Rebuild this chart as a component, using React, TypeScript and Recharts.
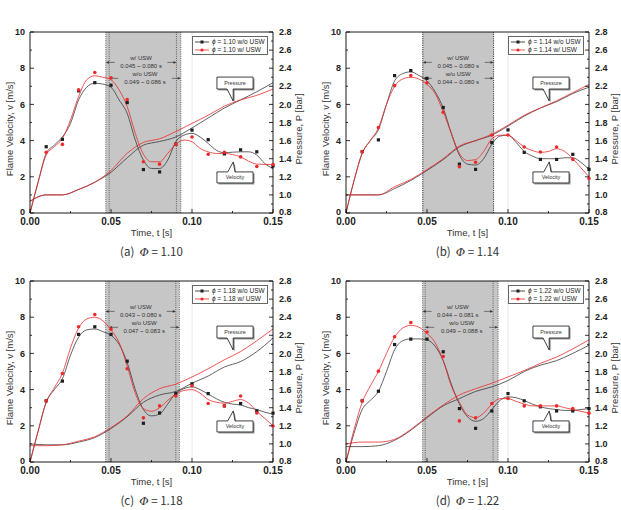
import React from "react";
import {
  ComposedChart,
  Line,
  Scatter,
  XAxis,
  YAxis,
  ReferenceArea,
  ReferenceLine,
  Legend,
} from "recharts";

// Four panels of flame velocity (left axis) and pressure (right axis)
// vs. time, with and without USW.

const T_FINE = [
  0, 0.005, 0.01, 0.015, 0.02, 0.025, 0.03, 0.035, 0.04, 0.045, 0.05,
  0.055, 0.06, 0.065, 0.07, 0.075, 0.08, 0.085, 0.09, 0.095, 0.1, 0.105,
  0.11, 0.115, 0.12, 0.125, 0.13, 0.135, 0.14, 0.145, 0.15,
];
const T_STEP = [
  0, 0.01, 0.02, 0.03, 0.04, 0.05, 0.06, 0.07, 0.08, 0.09, 0.1, 0.11, 0.12,
  0.13, 0.14, 0.15,
];
const T_MARK = [
  0.01, 0.02, 0.03, 0.04, 0.05, 0.06, 0.07, 0.08, 0.09, 0.1, 0.11, 0.12,
  0.13, 0.14, 0.15,
];

const X_TICKS = [0, 0.025, 0.05, 0.075, 0.1, 0.125, 0.15];
const V_TICKS = [0, 1, 2, 3, 4, 5, 6, 7, 8, 9, 10];
const P_TICKS = [
  0.8, 0.9, 1.0, 1.1, 1.2, 1.3, 1.4, 1.5, 1.6, 1.7, 1.8, 1.9, 2.0, 2.1, 2.2,
  2.3, 2.4, 2.5, 2.6, 2.7, 2.8,
];

// (a) phi = 1.10
const MARK_A_WO = [3.66, 4.07, 6.75, 7.2, 7.06, 6.1, 2.4, 2.27, 3.8, 4.58, 4.05, 3.27, 3.49, 3.38, 2.6];
const MARK_A_W = [3.36, 3.79, 6.8, 7.76, 7.47, 6.27, 2.83, 2.7, 3.79, 4.2, 3.25, 3.35, 3.1, 2.57, 2.68];
const CURVE_A_WO = [0, 1.7, 3.29, 3.75, 4.2, 4.95, 6.25, 6.95, 7.17, 7.12, 6.95, 6.25, 5.5, 4.03, 2.92, 2.46, 2.46, 2.92, 3.94, 4.3, 4.4, 4.2, 3.84, 3.47, 3.33, 3.36, 3.38, 3.38, 3.2, 2.73, 2.46];
const CURVE_A_W = [0, 1.7, 3.2, 3.66, 4.12, 5.14, 6.43, 7.36, 7.58, 7.5, 7.36, 6.8, 5.88, 4.4, 3.25, 2.83, 2.83, 3.29, 3.8, 4.03, 3.94, 3.57, 3.38, 3.29, 3.29, 3.23, 3.1, 2.86, 2.7, 2.68, 2.68];
const PRES_A_WO = [0.93, 1.0, 1.0, 1.06, 1.14, 1.25, 1.41, 1.55, 1.59, 1.64, 1.74, 1.85, 1.96, 2.05, 2.14, 2.24];
const PRES_A_W = [0.93, 1.0, 1.0, 1.06, 1.14, 1.27, 1.46, 1.58, 1.62, 1.7, 1.79, 1.88, 1.98, 2.05, 2.1, 2.17];
const SHADE_A = [0.0468, 0.0489, 0.0904, 0.0931];
const ANNO_A = ["0.045 ~ 0.080 s", "0.049 ~ 0.086 s"];

// (b) phi = 1.14
const MARK_B_WO = [3.39, 4.04, 7.59, 7.87, 7.44, 5.83, 2.7, 2.41, 3.89, 4.59, 3.35, 2.96, 2.96, 3.24, 2.41];
const MARK_B_W = [3.39, 4.72, 7.04, 7.59, 7.19, 5.56, 2.56, 2.8, 4.31, 4.31, 3.65, 3.37, 3.65, 2.96, 1.91];
const CURVE_B_WO = [0, 1.8, 3.3, 4.0, 4.6, 6.0, 7.3, 7.7, 7.8, 7.6, 7.3, 6.7, 5.8, 4.4, 3.2, 2.7, 2.65, 3.0, 3.8, 4.25, 4.3, 3.9, 3.4, 3.15, 3.0, 3.0, 3.0, 3.05, 3.05, 2.8, 2.4];
const CURVE_B_W = [0, 1.8, 3.3, 4.0, 4.7, 6.0, 7.0, 7.4, 7.5, 7.4, 7.1, 6.6, 5.6, 4.4, 3.3, 2.9, 2.95, 3.4, 4.1, 4.3, 4.3, 4.0, 3.65, 3.45, 3.35, 3.4, 3.55, 3.4, 3.0, 2.5, 2.0];
const PRES_B_WO = [1.0, 1.0, 1.0, 1.07, 1.16, 1.27, 1.39, 1.53, 1.6, 1.66, 1.76, 1.87, 1.96, 2.03, 2.12, 2.19];
const PRES_B_W = [1.0, 1.0, 1.0, 1.09, 1.17, 1.28, 1.4, 1.54, 1.6, 1.67, 1.77, 1.88, 1.96, 2.04, 2.13, 2.22];
const SHADE_B = [0.0474, 0.0474, 0.0911, 0.0911];
const ANNO_B = ["0.045 ~ 0.080 s", "0.044 ~ 0.080 s"];

// (c) phi = 1.18
const MARK_C_WO = [3.38, 4.47, 7.05, 7.47, 7.05, 5.57, 2.14, 2.71, 3.78, 4.32, 3.78, 3.1, 3.23, 2.82, 2.7];
const MARK_C_W = [3.38, 4.89, 7.47, 8.15, 7.34, 5.15, 2.44, 3.1, 3.65, 4.21, 3.23, 3.1, 3.65, 2.71, 1.99];
const CURVE_C_WO = [0, 1.7, 3.3, 4.0, 4.6, 5.9, 6.9, 7.3, 7.35, 7.2, 7.0, 6.5, 5.5, 4.0, 2.9, 2.55, 2.65, 3.2, 3.8, 4.05, 4.15, 4.0, 3.75, 3.5, 3.3, 3.2, 3.15, 3.0, 2.9, 2.75, 2.65];
const CURVE_C_W = [0, 1.7, 3.3, 4.1, 4.9, 6.3, 7.4, 7.9, 8.0, 7.8, 7.3, 6.6, 5.3, 3.8, 2.95, 2.8, 3.0, 3.4, 3.75, 3.95, 4.0, 3.8, 3.45, 3.3, 3.25, 3.35, 3.45, 3.25, 2.8, 2.4, 2.0];
const PRES_C_WO = [1.0, 0.99, 0.99, 1.02, 1.07, 1.17, 1.3, 1.46, 1.54, 1.58, 1.67, 1.75, 1.85, 1.91, 2.02, 2.17];
const PRES_C_W = [0.98, 0.98, 0.99, 1.03, 1.08, 1.18, 1.31, 1.5, 1.61, 1.66, 1.74, 1.83, 1.93, 2.02, 2.14, 2.27];
const SHADE_C = [0.0467, 0.0488, 0.09, 0.0922];
const ANNO_C = ["0.043 ~ 0.080 s", "0.047 ~ 0.083 s"];

// (d) phi = 1.22
const MARK_D_WO = [3.38, 3.91, 6.49, 6.79, 6.79, 6.09, 2.95, 1.86, 2.82, 3.78, 3.38, 3.05, 2.82, 2.82, 2.95];
const MARK_D_W = [3.38, 5.02, 6.92, 7.71, 7.18, 5.83, 2.27, 2.44, 3.23, 3.51, 3.1, 3.1, 3.1, 2.95, 2.7];
const CURVE_D_WO = [0, 1.6, 2.9, 3.4, 3.9, 5.0, 6.2, 6.7, 6.8, 6.8, 6.75, 6.4, 5.6, 4.3, 3.2, 2.5, 2.25, 2.4, 2.9, 3.4, 3.6, 3.55, 3.4, 3.2, 3.05, 2.95, 2.9, 2.85, 2.85, 2.9, 2.95];
const CURVE_D_W = [0, 1.8, 3.3, 4.2, 5.0, 6.0, 6.9, 7.4, 7.55, 7.45, 7.1, 6.6, 5.6, 4.2, 3.3, 2.6, 2.45, 2.7, 3.2, 3.5, 3.5, 3.35, 3.2, 3.1, 3.1, 3.1, 3.1, 3.0, 2.9, 2.8, 2.7];
const PRES_D_WO = [0.97, 0.97, 0.98, 1.04, 1.15, 1.29, 1.42, 1.5, 1.58, 1.63, 1.7, 1.8, 1.87, 1.92, 2.0, 2.09];
const PRES_D_W = [1.0, 1.02, 1.02, 1.05, 1.16, 1.3, 1.43, 1.54, 1.61, 1.67, 1.74, 1.81, 1.89, 1.96, 2.05, 2.15];
const SHADE_D = [0.0473, 0.0489, 0.0908, 0.0939];
const ANNO_D = ["0.044 ~ 0.081 s", "0.049 ~ 0.088 s"];

const BLACK = "#1e1e1e";
const RED = "#ec2a2a";
const FONT = "'Liberation Sans', Arial, sans-serif";

const pts = (ts: number[], vs: number[]) => ts.map((t, i) => ({ t, v: vs[i] }));

const PANELS = [
  { tag: "a", phi: "1.10", left: 0, top: 0, mwo: MARK_A_WO, mw: MARK_A_W, cwo: CURVE_A_WO, cw: CURVE_A_W, pwo: PRES_A_WO, pw: PRES_A_W, shade: SHADE_A, anno: ANNO_A },
  { tag: "b", phi: "1.14", left: 316, top: 0, mwo: MARK_B_WO, mw: MARK_B_W, cwo: CURVE_B_WO, cw: CURVE_B_W, pwo: PRES_B_WO, pw: PRES_B_W, shade: SHADE_B, anno: ANNO_B },
  { tag: "c", phi: "1.18", left: 0, top: 249, mwo: MARK_C_WO, mw: MARK_C_W, cwo: CURVE_C_WO, cw: CURVE_C_W, pwo: PRES_C_WO, pw: PRES_C_W, shade: SHADE_C, anno: ANNO_C },
  { tag: "d", phi: "1.22", left: 316, top: 249, mwo: MARK_D_WO, mw: MARK_D_W, cwo: CURVE_D_WO, cw: CURVE_D_W, pwo: PRES_D_WO, pw: PRES_D_W, shade: SHADE_D, anno: ANNO_D },
];

// --- axis ticks: inward tick marks drawn by hand so minor ticks get no label

const XTick = (props: any) => {
  const { x, y, payload, index } = props;
  const major = index % 2 === 0;
  return (
    <g>
      <line x1={x} x2={x} y1={y} y2={y - (major ? 4 : 2)} stroke="#000" strokeWidth={0.8} />
      {major && (
        <text x={x} y={y + 8.5} dy="0.35em" textAnchor="middle" fontSize={10} fontWeight="bold" fontFamily={FONT} fill="#222">
          {payload.value.toFixed(2)}
        </text>
      )}
    </g>
  );
};

const VTick = (props: any) => {
  const { x, y, payload } = props;
  const ax = x + 5;
  const major = payload.value % 2 === 0;
  return (
    <g>
      <line x1={ax} x2={ax + (major ? 4 : 2)} y1={y} y2={y} stroke="#000" strokeWidth={0.8} />
      {major && (
        <text x={x} y={payload.value === 0 ? y - 1.5 : y} dy="0.35em" textAnchor="end" fontSize={9} fontWeight="bold" fontFamily={FONT} fill="#222">
          {payload.value}
        </text>
      )}
    </g>
  );
};

const PTick = (props: any) => {
  const { x, y, payload } = props;
  const ax = x - 6;
  const major = Math.round(payload.value * 10) % 2 === 0;
  return (
    <g>
      <line x1={ax} x2={ax - (major ? 4 : 2)} y1={y} y2={y} stroke="#000" strokeWidth={0.8} />
      {major && (
        <text x={x} y={Math.abs(payload.value - 0.8) < 1e-6 ? y - 1.5 : y} dy="0.35em" textAnchor="start" fontSize={9} fontWeight="bold" fontFamily={FONT} fill="#222">
          {payload.value.toFixed(1)}
        </text>
      )}
    </g>
  );
};

const Square = (p: any) => <rect x={p.cx - 1.6} y={p.cy - 1.6} width={3.2} height={3.2} fill={BLACK} />;
const Dot = (p: any) => <circle cx={p.cx} cy={p.cy} r={1.8} fill={RED} />;

// speech-bubble labels ("Pressure" / "Velocity")
const callout = (text: string, down: boolean) => (p: any) => {
  const { x, y, width: w, height: h } = p;
  let d: string;
  if (down) {
    d = `M${x},${y} H${x + w} V${y + h} H${x + w * 0.45} L${x + w * 0.45},${y + h + 12} L${x + w * 0.28},${y + h} H${x} Z`;
  } else {
    d = `M${x},${y} H${x + w * 0.3} L${x + w * 0.45},${y - 10} L${x + w * 0.5},${y} H${x + w} V${y + h} H${x} Z`;
  }
  return (
    <g>
      <path d={d} transform="translate(1.5,1.5)" fill="#9a9a9a" stroke="none" />
      <path d={d} fill="#fff" stroke="#111" strokeWidth={0.8} strokeLinejoin="round" />
      <text x={x + w / 2} y={y + h / 2} dy="0.35em" textAnchor="middle" fontSize={5.4} fontFamily={FONT} fill="#333">
        {text}
      </text>
    </g>
  );
};

// "w/ USW  t1 ~ t2 s" block with arrows pointing at the two boundaries
const band = (title: string, range: string) => (p: any) => {
  const { x, y, width: w } = p;
  const cx = x + w / 2;
  const ay = y + 8.3;
  return (
    <g fontFamily={FONT} fontSize={6} fill="#333">
      <text x={cx} y={y + 4.3} dy="0.35em" textAnchor="middle">{title}</text>
      <text x={cx} y={y + 12} dy="0.35em" textAnchor="middle">{range}</text>
      <line x1={x + 2} x2={x + 9} y1={ay} y2={ay} stroke="#333" strokeWidth={0.6} />
      <polygon points={`${x},${ay} ${x + 3},${ay - 1.3} ${x + 3},${ay + 1.3}`} fill="#333" />
      <line x1={x + w - 9} x2={x + w - 2} y1={ay} y2={ay} stroke="#333" strokeWidth={0.6} />
      <polygon points={`${x + w},${ay} ${x + w - 3},${ay - 1.3} ${x + w - 3},${ay + 1.3}`} fill="#333" />
    </g>
  );
};

const LegendBox = ({ phi }: { phi: string }) => {
  const row = (color: string, square: boolean, text: string) => (
    <div style={{ display: "flex", alignItems: "center", height: 8 }}>
      <svg width={17} height={8} style={{ marginRight: 2 }}>
        <line x1={2} x2={16} y1={4} y2={4} stroke={color} strokeWidth={0.8} />
        {square ? <rect x={7.5} y={2.5} width={3} height={3} fill={color} /> : <circle cx={9} cy={4} r={1.6} fill={color} />}
      </svg>
      <span>
        <i>ϕ</i> = {phi} {text}
      </span>
    </div>
  );
  return (
    <div
      style={{
        width: 76,
        height: 19,
        boxSizing: "border-box",
        border: "0.8px solid #666",
        background: "#fff",
        fontFamily: FONT,
        fontSize: 6.5,
        color: "#222",
        paddingTop: 1,
        lineHeight: "8px",
      }}
    >
      {row(BLACK, true, "w/o USW")}
      {row(RED, false, "w/ USW")}
    </div>
  );
};

function Panel({ cfg }: { cfg: (typeof PANELS)[number] }) {
  const s = cfg.shade;
  return (
    <div style={{ position: "absolute", left: cfg.left, top: cfg.top }}>
      <ComposedChart width={310} height={249} margin={{ top: 32, right: 0, bottom: 0, left: 0 }}>
        <XAxis
          type="number"
          dataKey="t"
          domain={[0, 0.15]}
          ticks={X_TICKS}
          interval={0}
          tickSize={0}
          tickMargin={0}
          tickLine={false}
          tick={<XTick />}
          height={36}
          axisLine={{ stroke: "#000", strokeWidth: 0.9 }}
          label={() => (
            <text x={151.5} y={233} dy="0.35em" textAnchor="middle" fontSize={9.5} fontFamily={FONT} fill="#333">
              Time, t [s]
            </text>
          )}
        />
        <YAxis
          yAxisId="v"
          type="number"
          domain={[0, 10]}
          ticks={V_TICKS}
          interval={0}
          tickSize={0}
          tickMargin={5}
          tickLine={false}
          tick={<VTick />}
          width={30}
          axisLine={{ stroke: "#000", strokeWidth: 0.9 }}
          label={() => (
            <text x={10} y={129} dy="0.35em" transform="rotate(-90 10 129)" textAnchor="middle" fontSize={9.5} fontFamily={FONT} fill="#333">
              Flame Velocity, v [m/s]
            </text>
          )}
        />
        <YAxis
          yAxisId="p"
          orientation="right"
          type="number"
          domain={[0.8, 2.8]}
          ticks={P_TICKS}
          interval={0}
          tickSize={0}
          tickMargin={6}
          tickLine={false}
          tick={<PTick />}
          width={37}
          axisLine={{ stroke: "#000", strokeWidth: 0.9 }}
          label={() => (
            <text x={299} y={129} dy="0.35em" transform="rotate(-90 299 129)" textAnchor="middle" fontSize={9.5} fontFamily={FONT} fill="#333">
              Pressure, P [bar]
            </text>
          )}
        />

        <ReferenceArea yAxisId="v" x1={s[0]} x2={s[3]} y1={0} y2={10} fill="#c6c6c6" fillOpacity={1} stroke="none" />
        <ReferenceLine yAxisId="v" x={0.1} stroke="#e2e2e2" strokeWidth={0.8} />
        {s.map((xv, i) => (
          <ReferenceLine key={i} yAxisId="v" x={xv} stroke="#333" strokeWidth={0.7} strokeDasharray="1 1.2" />
        ))}
        <ReferenceLine yAxisId="v" y={10} stroke="#000" strokeWidth={0.9} />

        <Line yAxisId="p" data={pts(T_STEP, cfg.pwo)} dataKey="v" type="monotone" stroke="#3a3a3a" strokeWidth={0.8} dot={false} isAnimationActive={false} legendType="none" />
        <Line yAxisId="p" data={pts(T_STEP, cfg.pw)} dataKey="v" type="monotone" stroke={RED} strokeWidth={0.8} dot={false} isAnimationActive={false} legendType="none" />
        <Line yAxisId="v" data={pts(T_FINE, cfg.cwo)} dataKey="v" type="monotone" stroke="#3a3a3a" strokeWidth={0.8} dot={false} isAnimationActive={false} legendType="none" />
        <Line yAxisId="v" data={pts(T_FINE, cfg.cw)} dataKey="v" type="monotone" stroke={RED} strokeWidth={0.8} dot={false} isAnimationActive={false} legendType="none" />
        <Scatter yAxisId="v" data={pts(T_MARK, cfg.mwo)} dataKey="v" shape={Square} isAnimationActive={false} legendType="none" />
        <Scatter yAxisId="v" data={pts(T_MARK, cfg.mw)} dataKey="v" shape={Dot} isAnimationActive={false} legendType="none" />

        <ReferenceArea yAxisId="v" x1={s[0]} x2={s[2]} y1={7.9} y2={8.78} fill="none" stroke="none" shape={band("w/ USW", cfg.anno[0])} />
        <ReferenceArea yAxisId="v" x1={s[1]} x2={s[3]} y1={7.02} y2={7.9} fill="none" stroke="none" shape={band("w/o USW", cfg.anno[1])} />
        <ReferenceArea yAxisId="v" x1={0.1154} x2={0.1377} y1={6.85} y2={7.51} shape={callout("Pressure", true)} />
        <ReferenceArea yAxisId="v" x1={0.1154} x2={0.1377} y1={1.66} y2={2.27} shape={callout("Velocity", false)} />

        <Legend
          layout="horizontal"
          verticalAlign="middle"
          align="center"
          wrapperStyle={{ left: 192, top: 36, width: 76, height: 19 }}
          content={() => <LegendBox phi={cfg.phi} />}
        />
      </ComposedChart>
      <div
        style={{
          position: "absolute",
          left: 0,
          top: 245,
          width: 303,
          textAlign: "center",
          fontFamily: "'Noto Sans CJK KR', 'Noto Sans', sans-serif",
          fontSize: 11.5,
          lineHeight: "13px",
          color: "#333",
          whiteSpace: "pre",
        }}
      >
        ({cfg.tag})  <i style={{ fontFamily: "'DejaVu Serif', serif" }}>Φ</i> = {cfg.phi}
      </div>
    </div>
  );
}

export default function App() {
  return (
    <div style={{ position: "absolute", left: 0, top: 0, width: 621, height: 510, background: "#fff", overflow: "hidden" }}>
      {PANELS.map((p) => (
        <Panel key={p.tag} cfg={p} />
      ))}
    </div>
  );
}
